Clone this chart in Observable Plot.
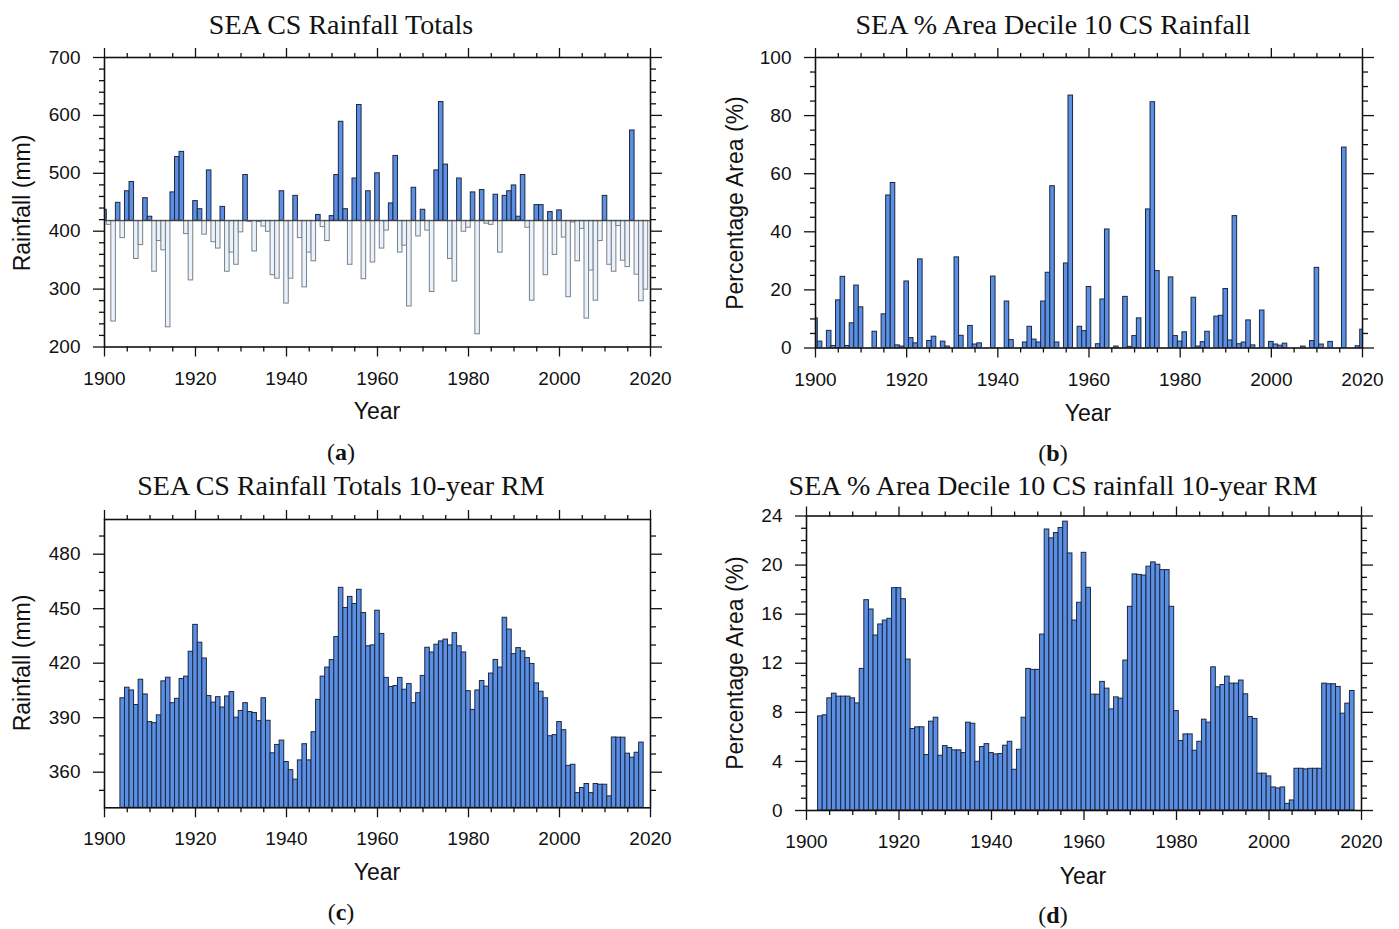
<!DOCTYPE html>
<html>
<head>
<meta charset="utf-8">
<script src="https://cdn.jsdelivr.net/npm/d3@7"></script>
<script src="https://cdn.jsdelivr.net/npm/@observablehq/plot@0.6"></script>
<style>
html, body { margin: 0; padding: 0; background: #fff; }
#fig { position: relative; width: 1399px; height: 929px; overflow: hidden; background: #fff; }
.abs { position: absolute; white-space: nowrap; line-height: 1; transform: translate(-50%, -50%); color: #111; }
.title { font-family: "Liberation Serif", "Times New Roman", serif; font-size: 28px; }
.cap { font-family: "Liberation Serif", "Times New Roman", serif; font-size: 24px; }
.axl { font-family: "Liberation Sans", Arial, sans-serif; font-size: 23px; }
.rot { transform: translate(-50%, -50%) rotate(-90deg); }
</style>
</head>
<body>
<div id="fig"></div>
<script>
// ---------------- DATA ----------------
// (a) SEA cool-season rainfall totals (mm), 1900-2019
const yearsA = d3.range(1900, 2020);
const rainTotals = [
  437, 411, 244, 449, 388, 469, 485, 352, 376, 457,
  425, 330, 383, 367, 234, 467, 528, 537, 395, 315,
  452, 438, 394, 505, 381, 370, 442, 330, 363, 342,
  398, 497, 416, 365, 416, 408, 399, 324, 318, 469,
  275, 318, 461, 388, 303, 363, 348, 428, 407, 383,
  426, 497, 589, 438, 342, 491, 618, 317, 469, 346,
  500, 370, 401, 448, 530, 363, 375, 270, 475, 391,
  437, 401, 295, 505, 623, 515, 352, 313, 491, 399,
  406, 467, 222, 471, 413, 411, 463, 363, 461, 469,
  479, 425, 497, 406, 280, 445, 445, 324, 433, 359,
  436, 389, 286, 415, 348, 404, 249, 332, 280, 383,
  461, 342, 330, 409, 349, 338, 574, 325, 279, 299
];
const rainBase = 418;

// (b) % area in decile 10, 1900-2020
const yearsB = d3.range(1900, 2021);
const pctDecile10 = [
  10.2, 2.2, 0, 5.9, 0.7, 16.4, 24.5, 0.7, 8.5, 21.5,
  14, 0, 0, 5.6, 0, 11.6, 52.5, 56.8, 0.9, 0.5,
  22.9, 3.4, 1.6, 30.5, 0, 2.4, 3.9, 0, 2.2, 0.5,
  0, 31.2, 4.2, 0, 7.6, 1.2, 1.6, 0, 0, 24.6,
  0, 0, 16, 2.7, 0, 0, 1.9, 7.3, 2.9, 1.9,
  16, 25.9, 55.7, 1.9, 0, 29.1, 86.9, 0, 7.3, 5.8,
  21, 0, 1.3, 16.7, 40.8, 0, 0.5, 0, 17.6, 0.4,
  4.1, 10.2, 0, 47.7, 84.6, 26.5, 0, 0, 24.3, 4.1,
  2.2, 5.4, 0, 17.3, 0.5, 2, 5.6, 0, 10.8, 11.1,
  20.3, 2.6, 45.4, 1.3, 1.9, 9.5, 0.9, 0, 12.9, 0,
  2.1, 1.2, 0.8, 1.5, 0, 0, 0, 0.5, 0, 2.4,
  27.6, 1.2, 0, 2.1, 0, 0, 69, 0, 0, 0.6,
  6.3
];

// (c) 10-year running mean of rainfall totals (mm), 1904-2018
const yearsC = d3.range(1904, 2019);
const rainRM = [
  400.7, 406.5, 405, 397, 410.9, 402.8, 387.6, 387, 391.3, 410,
  412, 398, 400.4, 411.3, 412.6, 426.3, 441.1, 431.3, 422.6, 401.9,
  398.3, 401.3, 395.6, 401.7, 404.1, 390, 393.7, 398, 393.1, 392.6,
  388.1, 400.7, 388.3, 370.4, 375, 377.4, 365.6, 361.1, 355.9, 366.5,
  375.4, 366.5, 382, 399.8, 412.6, 417.6, 421.7, 434.4, 461.5, 450.4,
  456.5, 452.6, 460.4, 447.6, 429.3, 429.8, 448.9, 436.1, 411.9, 406.9,
  407.4, 411.9, 405.4, 408.5, 398, 403.5, 413, 428.5, 425.9, 430.2,
  432, 433, 429.8, 436.5, 429.3, 425.9, 404.6, 394.3, 405, 410.2,
  407.1, 414.3, 421.8, 417.6, 445, 438.5, 425, 428.3, 426.5, 422.8,
  419.6, 408.9, 404.3, 400.7, 379.8, 380.4, 387.6, 383.1, 363.5, 364.1,
  348.5, 351.3, 353.5, 348.5, 353.5, 353.1, 353.1, 346.7, 379.1, 379,
  379, 370.2, 368, 370.7, 376.3
];

// (d) 10-year running mean of % area decile 10, 1903-2018
const yearsD = d3.range(1903, 2019);
const pctRM = [
  7.67, 7.76, 9.14, 9.52, 9.28, 9.28, 9.28, 9.14, 8.73, 11.54,
  17.14, 16.38, 14.26, 15.16, 15.48, 15.62, 18.12, 18.12, 17.22, 12.3,
  6.64, 6.78, 6.78, 4.52, 7.24, 7.56, 4.46, 5.25, 5.09, 4.9,
  4.9, 4.68, 7.16, 7.07, 3.97, 5.17, 5.41, 4.68, 4.57, 4.6,
  5.28, 5.6, 3.32, 4.95, 7.56, 11.54, 11.46, 11.46, 14.34, 22.9,
  22.18, 22.61, 23.02, 23.54, 20.95, 15.48, 16.93, 21.0, 18.15, 9.44,
  9.44, 10.48, 9.93, 8.24, 9.22, 9.11, 12.22, 16.6, 19.24, 19.2,
  19.15, 19.87, 20.22, 20.03, 19.59, 19.59, 16.6, 8.1, 5.66, 6.2,
  6.2, 4.87, 5.6, 7.4, 7.16, 11.67, 10.04, 10.23, 10.91, 10.34,
  10.34, 10.59, 9.47, 7.62, 7.46, 3.0, 3.0, 2.78, 1.88, 1.8,
  1.88, 0.54, 0.82, 3.4, 3.4, 3.35, 3.4, 3.4, 3.4, 10.34,
  10.29, 10.29, 10.07, 7.89, 8.71, 9.74
];

// Tick values
const xMajor = [1900, 1920, 1940, 1960, 1980, 2000, 2020];
const xMinor = [1905, 1910, 1915, 1925, 1930, 1935, 1945, 1950, 1955, 1965, 1970, 1975, 1985, 1990, 1995, 2005, 2010, 2015];
const yMajorA = [200, 300, 400, 500, 600, 700];
const yMinorA = [220, 240, 260, 280, 320, 340, 360, 380, 420, 440, 460, 480, 520, 540, 560, 580, 620, 640, 660, 680];
const yMajorB = [0, 20, 40, 60, 80, 100];
const yMinorB = [5, 10, 15, 25, 30, 35, 45, 50, 55, 65, 70, 75, 85, 90, 95];
const yMajorC = [360, 390, 420, 450, 480];
const yMinorC = [350, 370, 380, 400, 410, 430, 440, 460, 470, 490];
const yMajorD = [0, 4, 8, 12, 16, 20, 24];
const yMinorD = [1, 2, 3, 5, 6, 7, 9, 10, 11, 13, 14, 15, 17, 18, 19, 21, 22, 23];

// ---------------- STYLE ----------------
const BLUE = "#5b8fe3";
const BLUE_EDGE = "#1c2740";
const LIGHT = "#eaf3fb";
const LIGHT_EDGE = "#7a8089";
const SANS = '"Liberation Sans", Arial, sans-serif';

const fig = document.getElementById("fig");

function addText(cls, html, x, y) {
  const d = document.createElement("div");
  d.className = "abs " + cls;
  d.innerHTML = html;
  d.style.left = x + "px";
  d.style.top = y + "px";
  fig.appendChild(d);
}

function makePanel(o) {
  const {left, top, width, height, fx1, fx2, fy1, fy2, yDomain, yMajor, yMinor, marks} = o;
  const blank = () => "";
  const ax = {label: null, strokeWidth: 1.3, fontSize: 19};
  const chart = Plot.plot({
    width, height,
    marginLeft: fx1 - left,
    marginRight: left + width - fx2,
    marginTop: fy1 - top,
    marginBottom: top + height - fy2,
    x: {domain: [1900, 2020]},
    y: {domain: yDomain},
    style: {fontFamily: SANS, fontSize: "19px", color: "#111", background: "transparent", overflow: "visible"},
    marks: [
      ...marks,
      Plot.axisX({anchor: "bottom", ticks: xMajor, tickSize: 10, tickPadding: 14, tickFormat: d => String(d), ...ax}),
      Plot.axisX({anchor: "bottom", ticks: xMinor, tickSize: 5, tickFormat: blank, ...ax}),
      Plot.axisX({anchor: "top", ticks: xMajor, tickSize: 10, tickFormat: blank, ...ax}),
      Plot.axisX({anchor: "top", ticks: xMinor, tickSize: 5, tickFormat: blank, ...ax}),
      Plot.axisY({anchor: "left", ticks: yMajor, tickSize: 11, tickPadding: 13, tickFormat: d => String(d), ...ax}),
      Plot.axisY({anchor: "left", ticks: yMinor, tickSize: 5, tickFormat: blank, ...ax}),
      Plot.axisY({anchor: "right", ticks: yMajor, tickSize: 11, tickFormat: blank, ...ax}),
      Plot.axisY({anchor: "right", ticks: yMinor, tickSize: 5, tickFormat: blank, ...ax}),
      Plot.frame({stroke: "#111", strokeWidth: 1.6})
    ]
  });
  chart.style.position = "absolute";
  chart.style.left = left + "px";
  chart.style.top = top + "px";
  fig.appendChild(chart);
}

// ---------------- PANEL (a) ----------------
const dataA = yearsA.map((year, i) => ({year, value: rainTotals[i]}));
makePanel({
  left: 0, top: 0, width: 700, height: 400,
  fx1: 104, fx2: 650, fy1: 57, fy2: 346.5,
  yDomain: [200, 700], yMajor: yMajorA, yMinor: yMinorA,
  marks: [
    Plot.rectY(dataA, {
      x1: d => d.year - 0.5, x2: d => d.year + 0.5,
      y1: rainBase, y2: "value",
      fill: d => d.value >= rainBase ? BLUE : LIGHT,
      stroke: d => d.value >= rainBase ? BLUE_EDGE : LIGHT_EDGE,
      strokeWidth: 1, inset: 0, clip: true
    }),
    Plot.ruleY([rainBase], {stroke: "#3a3a3a", strokeWidth: 1.1})
  ]
});

// ---------------- PANEL (b) ----------------
const dataB = yearsB.map((year, i) => ({year, value: pctDecile10[i]})).filter(d => d.value > 0);
makePanel({
  left: 700, top: 0, width: 699, height: 400,
  fx1: 815, fx2: 1362, fy1: 57, fy2: 347.5,
  yDomain: [0, 100], yMajor: yMajorB, yMinor: yMinorB,
  marks: [
    Plot.rectY(dataB, {
      x1: d => d.year - 0.5, x2: d => d.year + 0.5,
      y1: 0, y2: "value",
      fill: BLUE, stroke: BLUE_EDGE, strokeWidth: 1, inset: 0, clip: true
    })
  ]
});

// ---------------- PANEL (c) ----------------
const dataC = yearsC.map((year, i) => ({year, value: rainRM[i]}));
makePanel({
  left: 0, top: 460, width: 700, height: 400,
  fx1: 104, fx2: 650, fy1: 519, fy2: 807.3,
  yDomain: [340.4, 499.1], yMajor: yMajorC, yMinor: yMinorC,
  marks: [
    Plot.rectY(dataC, {
      x1: d => d.year - 0.5, x2: d => d.year + 0.5,
      y1: 340.4, y2: "value",
      fill: BLUE, stroke: BLUE_EDGE, strokeWidth: 1, inset: 0, clip: true
    })
  ]
});

// ---------------- PANEL (d) ----------------
const dataD = yearsD.map((year, i) => ({year, value: pctRM[i]}));
makePanel({
  left: 700, top: 460, width: 699, height: 400,
  fx1: 806, fx2: 1361, fy1: 515.5, fy2: 810,
  yDomain: [0, 24], yMajor: yMajorD, yMinor: yMinorD,
  marks: [
    Plot.rectY(dataD, {
      x1: d => d.year - 0.5, x2: d => d.year + 0.5,
      y1: 0, y2: "value",
      fill: BLUE, stroke: BLUE_EDGE, strokeWidth: 1, inset: 0, clip: true
    })
  ]
});

// ---------------- TEXT ----------------
addText("title", "SEA CS Rainfall Totals", 341, 25);
addText("title", "SEA % Area Decile 10 CS Rainfall", 1053, 25);
addText("title", "SEA CS Rainfall Totals 10-year RM", 341, 486);
addText("title", "SEA % Area Decile 10 CS rainfall 10-year RM", 1053, 486);

addText("axl", "Year", 377, 411);
addText("axl", "Year", 1088, 413);
addText("axl", "Year", 377, 872);
addText("axl", "Year", 1083, 876);

addText("axl rot", "Rainfall (mm)", 22, 203);
addText("axl rot", "Percentage Area (%)", 735, 203);
addText("axl rot", "Rainfall (mm)", 22, 663);
addText("axl rot", "Percentage Area (%)", 735, 663);

addText("cap", "(<b>a</b>)", 341, 452);
addText("cap", "(<b>b</b>)", 1053, 453);
addText("cap", "(<b>c</b>)", 341, 912);
addText("cap", "(<b>d</b>)", 1053, 915);
</script>
</body>
</html>
